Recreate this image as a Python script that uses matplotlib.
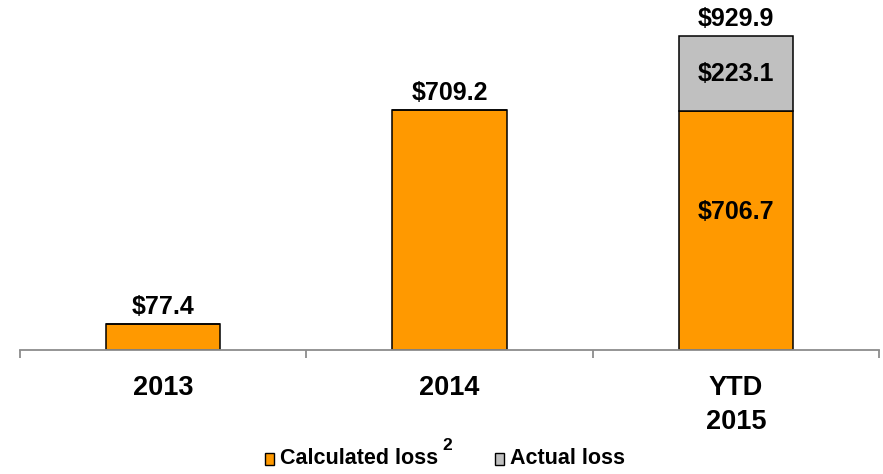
import matplotlib
matplotlib.use("Agg")
import matplotlib.pyplot as plt
from matplotlib.patches import Rectangle

categories = ["2013", "2014", "YTD\n2015"]
calculated = [77.4, 709.2, 706.7]
actual = [0.0, 0.0, 223.1]
totals = [77.4, 709.2, 929.9]

ORANGE = "#FF9900"
GRAY = "#C0C0C0"
FONT = "Liberation Sans"

W, H = 883, 474
fig = plt.figure(figsize=(W / 100, H / 100), dpi=100)
ax = fig.add_axes([20 / W, (H - 350) / H, 859 / W, 350 / H])

x = range(len(categories))
ax.bar(x, calculated, width=0.4, color=ORANGE, edgecolor="black", linewidth=1.1)
ax.bar(x, actual, bottom=calculated, width=0.4, color=GRAY, edgecolor="black", linewidth=1.1)

ax.set_xlim(-0.5, 2.5)
ax.set_ylim(0, 1036)

# value labels
lbl = dict(fontsize=18, fontweight="bold", family=FONT)
for i, t in enumerate(totals):
    ax.text(i, t + 15, "$%.1f" % t, ha="center", va="bottom", **lbl)
ax.text(2, calculated[2] + actual[2] / 2, "$%.1f" % actual[2], ha="center", va="center", **lbl)
ax.text(2, calculated[2] * 0.58, "$%.1f" % calculated[2], ha="center", va="center", **lbl)

for s in ["top", "right", "left"]:
    ax.spines[s].set_visible(False)
ax.spines["bottom"].set_color("#8c8c8c")
ax.spines["bottom"].set_linewidth(1.3)
ax.set_yticks([])
ax.set_xticks([-0.5, 0.5, 1.5, 2.5])
ax.set_xticklabels([])
ax.tick_params(axis="x", which="major", direction="out", length=6, width=1.3, color="#8c8c8c")
ax.set_xticks(list(x), minor=True)
ax.set_xticklabels(categories, minor=True, fontsize=19.5, fontweight="bold", family=FONT,
                   linespacing=1.42)
ax.tick_params(axis="x", which="minor", length=0, pad=18)

# legend along the bottom
leg_y = (H - 459) / H
leg = dict(fontsize=15.5, fontweight="bold", family=FONT)
fig.patches.append(Rectangle((265 / W, (H - 465) / H), 9 / W, 12 / H, transform=fig.transFigure,
                             facecolor=ORANGE, edgecolor="black", linewidth=1.0))
calc = fig.text(280 / W, leg_y, "Calculated loss", va="center", ha="left", **leg)
fig.canvas.draw()
end = calc.get_window_extent().x1
fig.text((end + 4) / W, (H - 445) / H, "2", fontsize=12.5, fontweight="bold", family=FONT,
         va="center", ha="left")
fig.patches.append(Rectangle((495 / W, (H - 465) / H), 9 / W, 12 / H, transform=fig.transFigure,
                             facecolor=GRAY, edgecolor="black", linewidth=1.0))
fig.text(510 / W, leg_y, "Actual loss", va="center", ha="left", **leg)

fig.savefig("out.png", dpi=100)
